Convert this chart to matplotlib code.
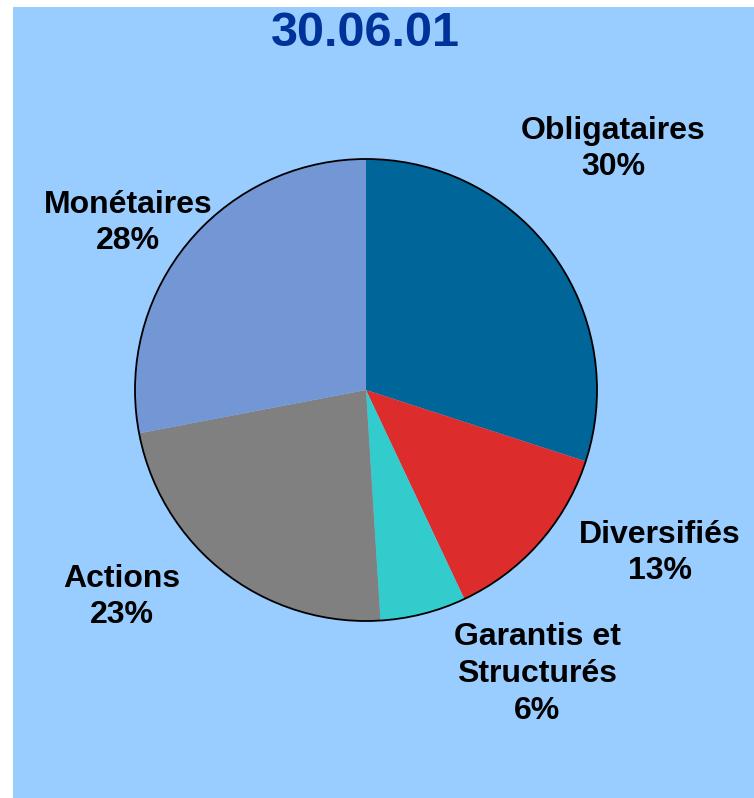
import matplotlib
matplotlib.use("Agg")
import matplotlib.pyplot as plt
from matplotlib.patches import Rectangle, Circle

# data
categories = ["Obligataires", "Diversifiés", "Garantis et\nStructurés", "Actions", "Monétaires"]
shares = [30, 13, 6, 23, 28]
colors = ["#006699", "#DC2C2C", "#33CCCC", "#808080", "#7397D5"]
title = "30.06.01"

# label placement in pixels (x, y from top)
label_pos = [(613, 149), (660, 553), (537, 674), (122, 597), (128, 223)]

W, H = 754, 798
fig = plt.figure(figsize=(W / 100, H / 100), dpi=100)
fig.patch.set_facecolor("white")

ax = fig.add_axes([0, 0, 1, 1])
ax.add_patch(Rectangle((13, 0), W - 13, H - 7, facecolor="#99CCFF",
                       edgecolor="none", zorder=-5))

cx, cy, r = 366, H - 390, 231
ax.pie(shares, colors=colors, startangle=90, counterclock=False,
       center=(cx, cy), radius=r, frame=True,
       wedgeprops=dict(linewidth=0))
ax.add_patch(Circle((cx, cy), r, facecolor="none", edgecolor="black", linewidth=1.3))
ax.set_xlim(0, W)
ax.set_ylim(0, H)
ax.set_aspect("equal")
ax.axis("off")

fig.text(365 / W, 1 - 33 / H, title, ha="center", va="center", fontsize=35,
         fontweight="bold", color="#003399", family="Liberation Sans")

for cat, val, (x, y) in zip(categories, shares, label_pos):
    fig.text(x / W, 1 - y / H, f"{cat}\n{val}%", ha="center", va="center",
             fontsize=23, fontweight="bold", family="Liberation Sans",
             linespacing=1.3)

fig.savefig("out.png", dpi=100)
